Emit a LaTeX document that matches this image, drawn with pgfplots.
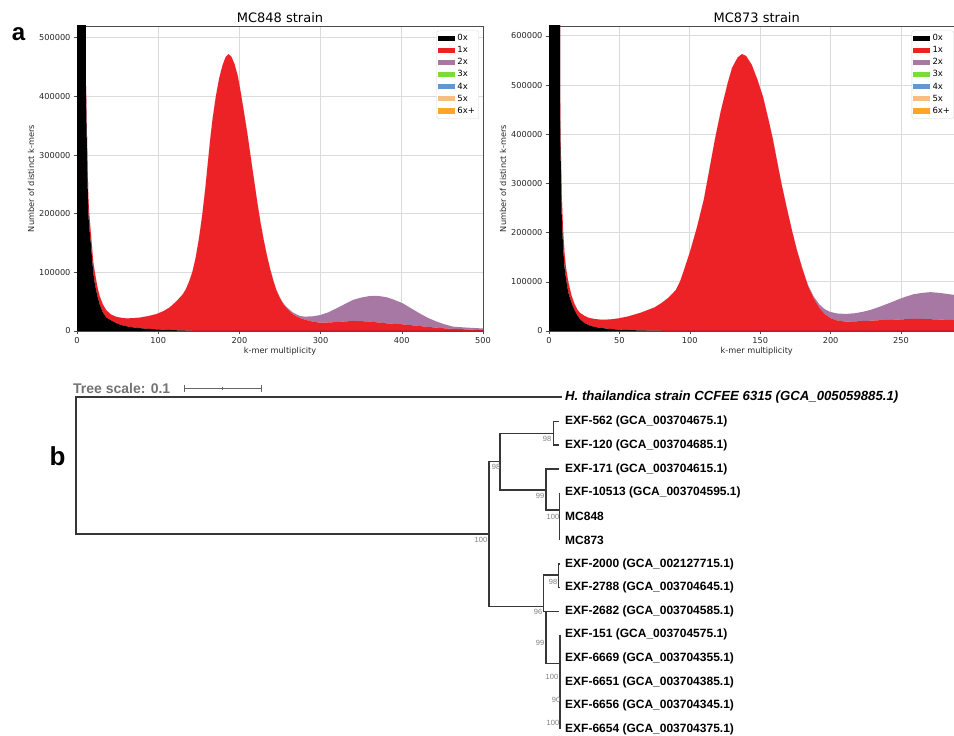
\documentclass[border=0pt]{standalone}
\usepackage{fontspec}
\setmainfont{Liberation Sans}
\newfontfamily\dejavu{DejaVu Sans}
\usepackage{pgfplots}
\pgfplotsset{compat=1.18}
\usepackage{pgfplotstable}

\definecolor{c0}{RGB}{0,0,0}
\definecolor{c1}{RGB}{236,34,39}
\definecolor{c2}{RGB}{166,120,163}
\definecolor{c3}{RGB}{125,220,50}
\definecolor{c4}{RGB}{100,150,210}
\definecolor{c5}{RGB}{243,192,130}
\definecolor{c6}{RGB}{255,165,40}
\definecolor{treeline}{RGB}{55,55,55}
\definecolor{boot}{RGB}{125,125,125}

% k-mer spectra, stacked layers: k0 = 0x, k1 = 1x, k2 = 2x
\pgfplotstableread{
x k0 k1 k2
0 1000000 0 0
10.5 1000000 0 0
11 410000 13000 0
12 330000 25000 0
13 255000 30000 0
14 200000 28000 0
15 178000 24000 0
17 150000 18000 0
20 100000 18000 0
22 80000 20000 0
25 60000 16000 0
28 45000 14000 0
32 31000 14000 0
36 23000 12500 0
42 18000 10000 0
48 13500 10800 0
55 10000 12300 0
61 8000 13500 0
70 6000 16000 0
78 4800 18200 0
88 3600 21900 0
98 2900 26100 0
106 2300 31200 0
114 1800 38200 0
122 1300 48700 0
130 1000 61000 0
134 800 70200 0
138 600 83400 0
142 400 99600 0
146 300 123700 0
150 200 155800 0
154 100 194900 0
158 0 243000 0
161 0 285000 0
164 0 326000 0
167 0 362000 0
171 0 400000 0
175 0 430000 0
179 0 452000 0
183 0 467000 0
186.5 0 472000 0
190 0 468000 0
194 0 455000 0
198 0 435000 0
202 0 404000 0
206 0 370000 0
210 0 335000 0
214 0 296000 0
218 0 258000 0
222 0 220000 0
226 0 185000 0
230 0 155000 0
234 0 128000 0
238 0 105000 0
242 0 85000 200
246 0 68000 500
250 0 56000 1000
254 0 46000 1500
258 0 39000 2000
262 0 33500 2500
266 0 28500 3000
270 0 25000 3500
275 0 22000 3500
280 0 19500 5000
290 0 16000 9000
299 0 14200 12800
310 0 14500 17500
320 0 15300 23700
330 0 16300 29700
340 0 17100 35900
350 0 16800 40200
360 0 16100 43400
368 0 15000 45000
375 0 14000 45000
381 0 13100 44500
390 0 12300 41200
401 0 11400 35900
411 0 10000 29000
422 0 8500 21500
432 0 7000 15500
443 0 5700 10300
453 0 4500 6700
463 0 3800 3600
480 0 2700 3100
496 0 1700 2900
500 0 1500 2800
}\mcleft

\pgfplotstableread{
x k0 k1 k2
0 1000000 0 0
7.7 1000000 0 0
8 400000 37000 0
9 240000 40000 0
10 170000 36000 0
11 130000 30000 0
12 108000 22000 0
13 89000 23000 0
14 75000 21000 0
16 57000 15000 0
18 43000 13000 0
20 32000 12000 0
22 24000 13000 0
25 16500 14500 0
28 12000 15000 0
32 8500 16000 0
36 6500 16800 0
40 5200 17800 0
45 3800 20200 0
50 2800 23200 0
56 2000 27500 0
65 1200 35800 0
75 700 47300 0
80 500 56500 0
85 300 67700 0
90 200 82800 0
93 150 99850 0
96 100 124900 0
100 0 160000 0
105 0 210000 0
110 0 268000 0
114 0 330000 0
118 0 392000 0
122 0 447000 0
127 0 505000 0
130 0 535000 0
134 0 556000 0
137 0 563000 0
140 0 559000 0
144 0 541000 0
148 0 511000 0
152 0 476000 0
156 0 428000 0
159 0 390000 0
162 0 345000 0
165 0 301000 0
168.5 0 255000 0
172.5 0 205000 0
176 0 165000 0
180 0 126000 1000
184 0 91000 2000
188 0 66000 4000
192 0 47000 7000
196 0 34000 10000
200 0 26000 12500
205 0 21000 14500
211 0 19000 15700
217 0 19500 16500
223 0 20400 18600
229 0 21000 22500
235 0 22000 27500
241 0 22500 33500
247 0 23000 40000
253 0 24000 45500
259 0 24700 50000
265 0 24500 53000
271 0 24000 55000
277 0 23300 54200
283 0 22600 52600
289 0 22000 51000
295 0 21000 49000
300 0 20000 47000
}\mcright

\pgfplotsset{
  kat/.style={
    scale only axis, height=305pt, ymin=0, xmin=0,
    stack plots=y, enlargelimits=false,
    axis line style={black!70, line width=0.7pt},
    grid=major, grid style={black!14, line width=0.7pt},
    tick align=outside, major tick length=3pt,
    xtick pos=bottom, ytick pos=left,
    tick style={black!70, line width=0.6pt},
    scaled y ticks=false,
    yticklabel style={/pgf/number format/fixed, /pgf/number format/1000 sep={}},
    /pgf/number format/assume math mode=true,
    tick label style={font=\dejavu\fontsize{8.2}{10}\selectfont, black!85},
    label style={font=\dejavu\fontsize{8.2}{10}\selectfont, black!85},
    title style={font=\dejavu\fontsize{13}{15}\selectfont, yshift=-6pt},
    xlabel={k-mer multiplicity},
    ylabel={Number of distinct k-mers},
    xlabel style={yshift=3pt},
    ylabel style={yshift=-2pt},
    legend cell align=left,
    legend image code/.code={\fill[##1, sharp corners] (0pt,-2.6pt) rectangle (17pt,2.6pt);},
    legend style={font=\dejavu\fontsize{8.5}{9}\selectfont,
      draw=black!15, rounded corners=2pt, fill=white,
      inner sep=1.5pt, row sep=0pt,
      nodes={text height=6.2pt, text depth=1.5pt, inner sep=2.2pt}},
  }
}

\begin{document}
\begin{tikzpicture}
\path[use as bounding box] (0pt,0pt) rectangle (954pt,736pt);
\clip (0pt,0pt) rectangle (954pt,736pt);

% panel b: the tree, in picture pixel coordinates
\begin{axis}[
  at={(0pt,0pt)}, anchor=south west, scale only axis,
  width=954pt, height=736pt,
  xmin=0, xmax=954, ymin=0, ymax=736, y dir=reverse,
  axis lines=none, clip=false,
]
\addplot[treeline, line width=1.4pt] coordinates {(562,397) (76,397) (76,534) (489,534)};
\addplot[treeline, line width=1.3pt] coordinates {(500,461.7) (489,461.7) (489,606.7) (543.3,606.7)};
\addplot[treeline, line width=1.3pt] coordinates {(553.3,433.3) (500,433.3) (500,490) (546,490)};
\addplot[treeline, line width=1.3pt] coordinates {(559,421.5) (553.3,421.5) (553.3,445) (559,445)};
\addplot[treeline, line width=1.3pt] coordinates {(559,469) (546,469) (546,510) (559.3,510)};
\addplot[treeline, line width=1.3pt] coordinates {(559.3,492.5) (559.3,540)};
\addplot[treeline, line width=1.3pt] coordinates {(558.3,575) (543.3,575) (543.3,611.5) (546,611.5)};
\addplot[treeline, line width=1.3pt] coordinates {(559,611.5) (546,611.5) (546,663.3) (560,663.3)};
\addplot[treeline, line width=1.3pt] coordinates {(560,564) (558.3,564) (558.3,587.5) (560,587.5)};
\addplot[treeline, line width=1.3pt] coordinates {(560,634.5) (560,729)};
% scale bar
\addplot[black!60, line width=1pt] coordinates {(184,388) (261,388)};
\addplot[black!60, line width=1pt] coordinates {(184,384.5) (184,391.5)};
\addplot[black!60, line width=1pt] coordinates {(261,384.5) (261,391.5)};
\addplot[black!60, line width=1pt] coordinates {(222.5,386.5) (222.5,389.5)};

\node[anchor=west, inner sep=0pt, text=black!55, font=\bfseries\fontsize{14}{16}\selectfont] at (73,388) {Tree scale: 0.1};

\begin{scope}[every node/.style={anchor=west, inner sep=0pt, font=\bfseries\fontsize{12}{14}\selectfont}]
\node[font=\bfseries\itshape\fontsize{13.2}{15}\selectfont] at (565,397) {H. thailandica strain CCFEE 6315 (GCA\_005059885.1)};
\node at (565,421.5) {EXF-562 (GCA\_003704675.1)};
\node at (565,445) {EXF-120 (GCA\_003704685.1)};
\node at (565,469) {EXF-171 (GCA\_003704615.1)};
\node at (565,492.5) {EXF-10513 (GCA\_003704595.1)};
\node at (565,516.5) {MC848};
\node at (565,540) {MC873};
\node at (565,564) {EXF-2000 (GCA\_002127715.1)};
\node at (565,587.5) {EXF-2788 (GCA\_003704645.1)};
\node at (565,611) {EXF-2682 (GCA\_003704585.1)};
\node at (565,634.5) {EXF-151 (GCA\_003704575.1)};
\node at (565,658) {EXF-6669 (GCA\_003704355.1)};
\node at (565,682) {EXF-6651 (GCA\_003704385.1)};
\node at (565,705) {EXF-6656 (GCA\_003704345.1)};
\node at (565,729) {EXF-6654 (GCA\_003704375.1)};
\end{scope}

\begin{scope}[every node/.style={inner sep=0pt, text=boot, font=\fontsize{7.5}{9}\selectfont}]
\node at (547,439) {98};
\node at (496,467) {98};
\node at (540,496) {99};
\node at (553,517) {100};
\node at (481,540) {100};
\node at (553,582) {98};
\node at (538,612) {96};
\node at (540,643) {99};
\node at (552,677) {100};
\node at (556,700) {90};
\node at (553,723) {100};
\end{scope}

\node[font=\bfseries\fontsize{24}{26}\selectfont, inner sep=0pt] at (18.5,34) {a};
\node[font=\bfseries\fontsize{26}{28}\selectfont, inner sep=0pt] at (57.5,456) {b};
\end{axis}

% panel a, left: MC848
\begin{axis}[kat,
  at={(77pt,405pt)}, anchor=south west,
  width=406pt, xmax=500, ymax=520000,
  xtick={0,100,...,500}, ytick={0,100000,...,500000},
  title={MC848 strain},
  legend style={at={(0.99,0.985)}, anchor=north east},
]
\addplot[fill=c0, draw=none] table[x=x, y=k0] {\mcleft} \closedcycle;
\addplot[fill=c1, draw=none] table[x=x, y=k1] {\mcleft} \closedcycle;
\addplot[fill=c2, draw=none] table[x=x, y=k2] {\mcleft} \closedcycle;
\addlegendimage{fill=c3, draw=none}
\addlegendimage{fill=c4, draw=none}
\addlegendimage{fill=c5, draw=none}
\addlegendimage{fill=c6, draw=none}
\legend{0x,1x,2x,3x,4x,5x,6x+}
\end{axis}

% panel a, right: MC873 (cut at the picture's right edge)
\begin{axis}[kat,
  at={(549pt,405pt)}, anchor=south west,
  width=415.4pt, xmax=295, ymax=620000,
  xtick={0,50,...,300}, ytick={0,100000,...,600000},
  title={MC873 strain},
  legend style={at={(0.873,0.985)}, anchor=north west},
]
\addplot[fill=c0, draw=none] table[x=x, y=k0] {\mcright} \closedcycle;
\addplot[fill=c1, draw=none] table[x=x, y=k1] {\mcright} \closedcycle;
\addplot[fill=c2, draw=none] table[x=x, y=k2] {\mcright} \closedcycle;
\addlegendimage{fill=c3, draw=none}
\addlegendimage{fill=c4, draw=none}
\addlegendimage{fill=c5, draw=none}
\addlegendimage{fill=c6, draw=none}
\legend{0x,1x,2x,3x,4x,5x,6x+}
\end{axis}
\end{tikzpicture}
\end{document}
